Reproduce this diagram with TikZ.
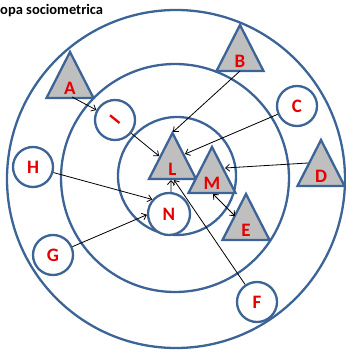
\documentclass[tikz,border=0pt]{standalone}
\usepackage{fontspec}
\setmainfont{Carlito}
\usetikzlibrary{arrows.meta}
\definecolor{ringblue}{HTML}{3C6496}
\definecolor{trigray}{HTML}{BFBFBF}
\definecolor{lettred}{HTML}{E60000}
\tikzset{
  ring/.style={draw=ringblue, line width=2.3pt},
  tribox/.style={draw=ringblue, fill=trigray, line width=2.3pt, line join=miter},
  cnode/.style={circle, draw=ringblue, fill=white, line width=2.3pt, minimum size=40pt, inner sep=0pt},
  lettr/.style={text=lettred, font=\fontsize{19}{19}\selectfont\bfseries, inner sep=0pt},
  arr/.style={draw=black, line width=0.8pt, -{Straight Barb[length=4pt,width=7pt]}},
  arrb/.style={draw=black, line width=0.8pt, {Straight Barb[length=4pt,width=7pt]}-{Straight Barb[length=4pt,width=7pt]}},
  title/.style={font=\fontsize{14.5}{14.5}\selectfont\bfseries, inner sep=0pt, anchor=base west}
}
\newcommand\mytri[4]{%
  \draw[tribox] (#2,#3) -- ++(23.5,46) -- ++(-47,0) -- cycle;
  \node[lettr] (#1) at (#2,#3+36) {#4};
}
\begin{document}
\begin{tikzpicture}[x=1pt,y=-1pt]
\useasboundingbox (0,0) rectangle (345,352);
\node[title] (title) at (0,15) {opa sociometrica};
% rings
\draw[ring] (176,179) circle[radius=169pt];
\draw[ring] (175,178) circle[radius=114pt];
\draw[ring] (177,176) circle[radius=59pt];
% triangles
\mytri{A}{70}{52}{A}
\mytri{B}{240}{25}{B}
\mytri{L}{172.5}{133}{L}
\mytri{M}{212}{147}{M}
\mytri{D}{321}{140}{D}
\mytri{E}{246}{194}{E}
% circles
\node[cnode] (I) at (115,120) {};
\node[lettr, rotate=51] (Ilab) at (I) {I};
\node[cnode] (C) at (297,106) {}; \node[lettr] at (C) {C};
\node[cnode] (H) at (33,167) {}; \node[lettr] at (H) {H};
\node[cnode] (G) at (53,255) {}; \node[lettr] at (G) {G};
\node[cnode, minimum size=42pt] (N) at (169,214) {}; \node[lettr] at (N) {N};
\node[cnode] (F) at (257,302) {}; \node[lettr] at (F) {F};
% connector end points
\coordinate (Abase) at (72,97);
\coordinate (Bbase) at (240,71);
\coordinate (Ltop) at (173,132);
\coordinate (Lleft) at (159,156);
\coordinate (Lright) at (185,154);
\coordinate (Lbot1) at (171,180);
\coordinate (Lbot2) at (174,180);
\coordinate (Dleft) at (308,163);
\coordinate (Mright) at (225,168);
\coordinate (Mbase) at (213,194);
\coordinate (Eleft) at (235,216);
% connectors
\draw[arr] (Abase) -- (I);
\draw[arr] (I) -- (Lleft);
\draw[arr] (Bbase) -- (Ltop);
\draw[arr] (C) -- (Lright);
\draw[arr] (Dleft) -- (Mright);
\draw[arr] (H) -- (N.139);
\draw[arr] (G) -- (N.182);
\draw[arr] (N.85) -- (Lbot1);
\draw[arr] (F) -- (Lbot2);
\draw[arrb] (Mbase) -- (Eleft);
\end{tikzpicture}
\end{document}
